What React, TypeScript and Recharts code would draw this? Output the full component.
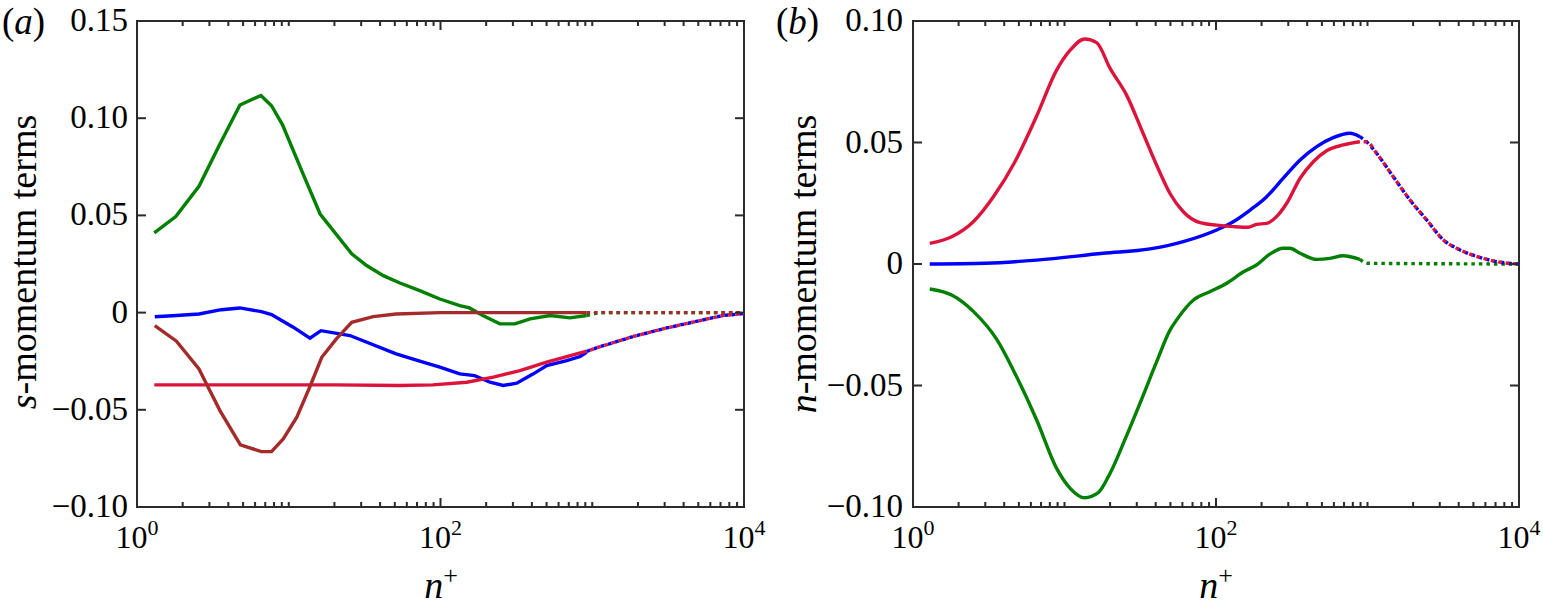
import React from 'react';
import { LineChart, Line, XAxis, YAxis, ReferenceArea } from 'recharts';

const FONT = "'Liberation Serif', Tinos, 'Nimbus Roman', Times, 'DejaVu Serif', serif";
const FRAME = '#2b2b2b';
const GREEN = '#008000';
const BLUE = '#0000ff';
const RED = '#dc143c';
const BROWN = '#a52a2a';

// ---- panel (a): s-momentum terms ----
const aGreenN = [1.3, 1.8, 2.56, 3.52, 4.77, 6.56, 7.7, 9.1, 12.7, 16.1, 26, 32.6, 42, 54, 73, 99, 134, 155, 190, 246, 309, 390, 528, 713, 918];
const aGreenV = [0.041, 0.0494, 0.065, 0.0867, 0.1068, 0.1117, 0.1064, 0.0966, 0.0696, 0.0507, 0.0302, 0.0242, 0.019, 0.0152, 0.0113, 0.007, 0.0036, 0.0024, -0.0015, -0.0058, -0.0058, -0.0032, -0.0015, -0.0027, -0.0015];
const aGreenTailN = [918, 1100, 10000];
const aGreenTailV = [-0.0015, 0, 0];

const aBlueN = [1.31, 1.82, 2.56, 3.6, 4.77, 6.6, 7.7, 10.7, 13.8, 16.3, 25.3, 51, 73, 99, 134, 168, 212, 259, 318, 409, 501, 679, 832, 918];
const aBlueV = [-0.0021, -0.0015, -0.0007, 0.0015, 0.0024, 0.0005, -0.001, -0.0075, -0.0132, -0.0093, -0.0118, -0.0212, -0.025, -0.028, -0.0315, -0.0324, -0.0358, -0.0375, -0.0363, -0.0315, -0.0272, -0.0247, -0.0226, -0.0204];

const aRedN = [1.3, 5, 20, 54, 89, 149, 223, 334, 500, 679, 918];
const aRedV = [-0.0372, -0.0372, -0.0372, -0.0375, -0.0372, -0.0358, -0.0332, -0.0298, -0.0255, -0.0226, -0.0198];

const aTailN = [918, 1130, 1860, 3090, 5130, 7270, 10000];
const aTailV = [-0.02, -0.0175, -0.0123, -0.0079, -0.0041, -0.0015, -0.0005];

const aBrownN = [1.31, 1.82, 2.56, 3.52, 4.8, 6.6, 7.7, 9.2, 11.3, 13.8, 16.5, 20.6, 26, 36, 51, 100, 918];
const aBrownV = [-0.0067, -0.0147, -0.029, -0.0504, -0.068, -0.0715, -0.0715, -0.065, -0.0538, -0.038, -0.023, -0.0135, -0.005, -0.0021, -0.0007, 0, 0];
const aBrownTailN = [918, 10000];
const aBrownTailV = [0, 0];

// ---- panel (b): n-momentum terms ----
const bRedN = [1.29, 1.8, 2.5, 3.43, 4.71, 6.55, 8.87, 10.9, 13.6, 16.3, 20, 25.7, 33, 41.7, 49.7, 60.8, 78.4, 101, 130, 163, 185, 216, 251, 293, 359, 439, 537, 692, 891];
const bRedV = [0.0085, 0.0112, 0.0174, 0.0281, 0.0421, 0.0609, 0.0798, 0.088, 0.0926, 0.0911, 0.0805, 0.0695, 0.0538, 0.039, 0.029, 0.0215, 0.017, 0.016, 0.0154, 0.0151, 0.0163, 0.0167, 0.0195, 0.025, 0.0353, 0.0421, 0.0466, 0.049, 0.0503];

const bBlueN = [1.29, 3, 6.55, 18, 36.7, 60.8, 101, 130, 168, 216, 278, 359, 462, 594, 766, 891];
const bBlueV = [0, 0.0003, 0.0016, 0.0044, 0.0062, 0.0092, 0.014, 0.0174, 0.0222, 0.0277, 0.0353, 0.0428, 0.0483, 0.052, 0.0538, 0.0524];

const bTailN = [986, 1150, 1480, 1910, 2460, 3170, 4080, 5820, 7940, 10000];
const bTailV = [0.0503, 0.0455, 0.0359, 0.0263, 0.0181, 0.0099, 0.0058, 0.0023, 0.0005, 0];

const bGreenN = [1.29, 1.8, 2.5, 3.57, 4.83, 6.55, 8.87, 10.9, 13.6, 16.7, 20, 25, 31.5, 40.6, 49.7, 55, 71, 91, 117, 152, 185, 227, 278, 308, 359, 462, 565, 692, 891];
const bGreenV = [-0.0103, -0.0128, -0.0195, -0.031, -0.0464, -0.0642, -0.0841, -0.0923, -0.0962, -0.0941, -0.0861, -0.0724, -0.0573, -0.0402, -0.0272, -0.023, -0.0148, -0.0114, -0.008, -0.0032, -0.0004, 0.0041, 0.0065, 0.0065, 0.0044, 0.0019, 0.0023, 0.0034, 0.0019];
const bGreenTailN = [891, 1000, 10000];
const bGreenTailV = [0.0019, 0.0003, 0];

// ---- axes ----
const majorX = [1, 100, 10000];
const minorX = [2, 3, 4, 5, 6, 7, 8, 9, 10, 20, 30, 40, 50, 60, 70, 80, 90, 200, 300, 400, 500, 600, 700, 800, 900, 1000, 2000, 3000, 4000, 5000, 6000, 7000, 8000, 9000];
const allX = [...majorX, ...minorX].sort((p, q) => p - q);
const aTicksY = [-0.1, -0.05, 0, 0.05, 0.1, 0.15];
const bTicksY = [-0.1, -0.05, 0, 0.05, 0.1];

const zip = (n: number[], v: number[]) => n.map((x, i) => ({ x, y: v[i] }));

const fmtY = (v: number) => (Math.abs(v) < 1e-9 ? '0' : (v < 0 ? '\u2212' : '') + Math.abs(v).toFixed(2));

type Box = { left: number; right: number; top: number; bottom: number };

// x tick: inward marks at bottom and top edges, 10^k label on majors
function makeXTick(box: Box) {
  return ({ x, payload }: any) => {
    const major = majorX.indexOf(payload.value) >= 0;
    const len = major ? 9 : 5;
    const px = Number(x);
    return (
      <g>
        <path d={`M${px},${box.bottom}V${box.bottom - len}M${px},${box.top}V${box.top + len}`} stroke={FRAME} strokeWidth={2} fill="none" />
        {major && (
          <text x={px} y={box.bottom + 41} textAnchor="middle" fontFamily={FONT} fontSize={32} fill="#000">
            10<tspan dy={-13} fontSize={22}>{Math.round(Math.log10(payload.value))}</tspan>
          </text>
        )}
      </g>
    );
  };
}

// y tick: inward marks on left and right edges, label on the left
function makeYTick(box: Box, labelRight: number) {
  return ({ y, payload }: any) => (
    <g>
      <line x1={box.left} x2={box.left + 9} y1={y} y2={y} stroke={FRAME} strokeWidth={2} />
      <line x1={box.right} x2={box.right - 9} y1={y} y2={y} stroke={FRAME} strokeWidth={2} />
      <text x={labelRight} y={y + 10} textAnchor="end" fontFamily={FONT} fontSize={33} fill="#000">
        {fmtY(payload.value)}
      </text>
    </g>
  );
}

function XTitle({ cx }: { cx: number }) {
  return (
    <text x={cx} y={598} textAnchor="middle" fontFamily={FONT} fontSize={38} fill="#000">
      <tspan fontStyle="italic">n</tspan>
      <tspan dy={-14} fontSize={26}>+</tspan>
    </text>
  );
}

function YTitle({ bx, cy, sym }: { bx: number; cy: number; sym: string }) {
  return (
    <text
      x={bx}
      y={cy}
      transform={`rotate(-90, ${bx}, ${cy})`}
      textAnchor="middle"
      fontFamily={FONT}
      fontSize={38}
      fill="#000"
    >
      <tspan fontStyle="italic">{sym}</tspan>-momentum terms
    </text>
  );
}

type Series = { data: { x: number; y: number }[]; color: string; dash?: string; offset?: number };

function Panel({
  width,
  margin,
  yDomain,
  yTicks,
  series,
  curve,
  tickRight,
  titleX,
  titleSym,
  titleCy,
  nCx,
}: {
  width: number;
  margin: { top: number; right: number; bottom: number; left: number };
  yDomain: [number, number];
  yTicks: number[];
  series: Series[];
  curve: 'linear' | 'monotone';
  tickRight: number;
  titleX: number;
  titleSym: string;
  titleCy: number;
  nCx: number;
}) {
  const box: Box = {
    left: margin.left + 100,
    right: width - margin.right,
    top: margin.top,
    bottom: 609 - margin.bottom - 60,
  };
  return (
    <LineChart width={width} height={609} margin={margin}>
      <XAxis
        type="number"
        dataKey="x"
        scale="log"
        domain={[1, 10000]}
        allowDataOverflow
        ticks={allX}
        interval={0}
        minTickGap={0}
        tickLine={false}
        axisLine={false}
        tick={makeXTick(box)}
        height={60}
        label={<XTitle cx={nCx} />}
      />
      <YAxis
        type="number"
        domain={yDomain}
        allowDataOverflow
        ticks={yTicks}
        interval={0}
        tickLine={false}
        axisLine={false}
        tick={makeYTick(box, tickRight)}
        width={100}
        label={<YTitle bx={titleX} cy={titleCy} sym={titleSym} />}
      />
      <ReferenceArea
        x1={1}
        x2={10000}
        y1={yDomain[0]}
        y2={yDomain[1]}
        fill="none"
        fillOpacity={0}
        stroke={FRAME}
        strokeWidth={2}
        strokeOpacity={1}
      />
      {series.map((s, i) => (
        <Line
          key={i}
          data={s.data}
          dataKey="y"
          type={curve}
          stroke={s.color}
          strokeWidth={3.4}
          strokeDasharray={s.dash}
          strokeDashoffset={s.offset}
          dot={false}
          activeDot={false}
          isAnimationActive={false}
        />
      ))}
    </LineChart>
  );
}

const DOT = '3.5 4';
const ALT = '3.75 3.75';

export default function App() {
  const aSeries: Series[] = [
    { data: zip(aGreenN, aGreenV), color: GREEN },
    { data: zip(aGreenTailN, aGreenTailV), color: GREEN, dash: DOT },
    { data: zip(aBlueN, aBlueV), color: BLUE },
    { data: zip(aRedN, aRedV), color: RED },
    { data: zip(aTailN, aTailV), color: BLUE, dash: ALT },
    { data: zip(aTailN, aTailV), color: RED, dash: ALT, offset: 3.75 },
    { data: zip(aBrownN, aBrownV), color: BROWN },
    { data: zip(aBrownTailN, aBrownTailV), color: BROWN, dash: DOT },
  ];
  const bSeries: Series[] = [
    { data: zip(bGreenN, bGreenV), color: GREEN },
    { data: zip(bGreenTailN, bGreenTailV), color: GREEN, dash: DOT },
    { data: zip(bBlueN, bBlueV), color: BLUE },
    { data: zip(bRedN, bRedV), color: RED },
    { data: zip([891, ...bTailN], [0.0524, ...bTailV]), color: BLUE, dash: ALT },
    { data: zip([891, ...bTailN], [0.0503, ...bTailV]), color: RED, dash: ALT, offset: 3.75 },
  ];
  return (
    <div style={{ position: 'absolute', left: 0, top: 0, width: 1543, height: 609, background: '#fff', fontFamily: FONT, overflow: 'hidden' }}>
      <div style={{ position: 'absolute', left: 0, top: 0 }}>
        <Panel
          width={770}
          margin={{ top: 21, right: 26, bottom: 42, left: 37 }}
          yDomain={[-0.1, 0.15]}
          yTicks={aTicksY}
          series={aSeries}
          curve="linear"
          tickRight={128}
          titleX={36}
          titleCy={262}
          titleSym="s"
          nCx={441}
        />
      </div>
      <div style={{ position: 'absolute', left: 770, top: 0 }}>
        <Panel
          width={773}
          margin={{ top: 21, right: 24, bottom: 42, left: 43 }}
          yDomain={[-0.1, 0.1]}
          yTicks={bTicksY}
          series={bSeries}
          curve="monotone"
          tickRight={133}
          titleX={46}
          titleCy={264}
          titleSym="n"
          nCx={446}
        />
      </div>
      <div style={{ position: 'absolute', left: 2, top: 3, fontSize: 37, lineHeight: '37px', color: '#000' }}>
        (<i>a</i>)
      </div>
      <div style={{ position: 'absolute', left: 776, top: 3, fontSize: 37, lineHeight: '37px', color: '#000' }}>
        (<i>b</i>)
      </div>
    </div>
  );
}
